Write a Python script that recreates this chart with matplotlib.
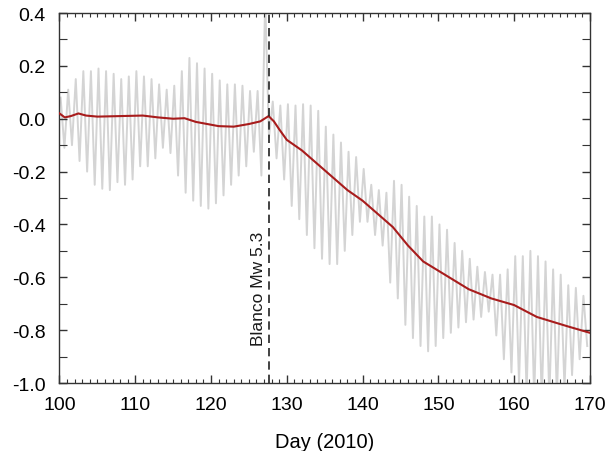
import matplotlib
matplotlib.use("Agg")
import matplotlib.pyplot as plt
from matplotlib.ticker import MultipleLocator
import numpy as np

plt.rcParams['font.family'] = ['Liberation Sans', 'DejaVu Sans']

# ---- data ----
days = list(range(100, 170))
gray_high = [0.08, 0.11, 0.15, 0.18, 0.18, 0.19, 0.18, 0.17, 0.15, 0.16,
             0.18, 0.16, 0.15, 0.13, 0.11, 0.125, 0.18, 0.23, 0.21, 0.19,
             0.17, 0.145, 0.13, 0.13, 0.125, 0.105, 0.105, 0.45, 0.065, 0.05,
             0.055, 0.05, 0.055, 0.05, 0.03, -0.03, -0.06, -0.09, -0.125, -0.145,
             -0.19, -0.25, -0.27, -0.28, -0.235, -0.25, -0.295, -0.33, -0.37, -0.37,
             -0.40, -0.42, -0.47, -0.50, -0.53, -0.56, -0.58, -0.59, -0.59, -0.57,
             -0.52, -0.52, -0.50, -0.52, -0.54, -0.57, -0.59, -0.63, -0.64, -0.67]
gray_low = [-0.11, -0.10, -0.16, -0.20, -0.25, -0.265, -0.27, -0.24, -0.25, -0.23,
            -0.18, -0.18, -0.15, -0.11, -0.13, -0.215, -0.28, -0.31, -0.33, -0.34,
            -0.32, -0.29, -0.25, -0.215, -0.18, -0.125, -0.215, -0.07, -0.15, -0.23,
            -0.33, -0.38, -0.44, -0.49, -0.53, -0.55, -0.55, -0.50, -0.44, -0.39,
            -0.39, -0.44, -0.48, -0.62, -0.68, -0.78, -0.83, -0.86, -0.88, -0.86,
            -0.83, -0.81, -0.79, -0.77, -0.76, -0.75, -0.73, -0.82, -0.91, -0.96,
            -1.00, -1.04, -1.06, -1.07, -1.06, -1.05, -1.02, -0.97, -0.91, -0.86]

red_days = [100, 100.7, 101.5, 102.5, 103.5, 105, 108, 111, 113, 115, 116.5,
            118, 119.5, 121, 123, 125, 126.5, 127.6, 128.3, 129, 130, 132, 134,
            136, 138, 140, 142, 144, 146, 148, 150, 152, 154, 157, 160, 163, 167, 170]
red_vals = [0.02, 0.005, 0.01, 0.02, 0.012, 0.008, 0.01, 0.012, 0.005, 0.0, 0.002,
            -0.012, -0.02, -0.028, -0.03, -0.02, -0.01, 0.01, -0.01, -0.04, -0.08,
            -0.12, -0.17, -0.22, -0.27, -0.31, -0.36, -0.41, -0.48, -0.54, -0.575,
            -0.61, -0.645, -0.68, -0.705, -0.75, -0.785, -0.81]

quake_day = 127.6
quake_label = "Blanco Mw 5.3"

# ---- figure ----
fig = plt.figure(figsize=(6.10, 4.52), dpi=100)
ax = fig.add_axes([0.0975, 0.1504, 0.8695, 0.8186])

gx, gy = [], []
for d, hi, lo in zip(days, gray_high, gray_low):
    gx += [d + 0.15, d + 0.65]
    gy += [hi, lo]
ax.plot(gx, gy, color='#d4d4d4', lw=1.4, zorder=1)
ax.plot(red_days, red_vals, color='#a81c1c', lw=1.5, zorder=3)

ax.axvline(quake_day, color='#222222', lw=1.2, ls=(0, (5, 3)), zorder=4)
ax.text(quake_day - 0.35, -0.64, quake_label, rotation=90, ha='right', va='center',
        fontsize=12.5, color='#1a1a1a')

ax.set_xlim(100, 170)
ax.set_ylim(-1.0, 0.4)
ax.xaxis.set_major_locator(MultipleLocator(10))
ax.xaxis.set_minor_locator(MultipleLocator(1))
ax.yaxis.set_major_locator(MultipleLocator(0.2))
ax.yaxis.set_minor_locator(MultipleLocator(0.1))
ax.yaxis.set_major_formatter(plt.FuncFormatter(lambda v, p: f"{v:.1f}".replace("-0.0", "0.0")))
ax.tick_params(which='both', direction='in', top=True, right=True, color='#333333')
ax.tick_params(which='major', length=6, width=1, labelsize=14)
ax.tick_params(axis='x', which='major', pad=9)
ax.tick_params(axis='y', which='major', pad=10)
ax.tick_params(which='minor', length=3, width=0.8)
ax.tick_params(axis='y', which='minor', right=True, length=6)
for s in ax.spines.values():
    s.set_color('#333333')
    s.set_linewidth(1.0)

ax.set_xlabel("Day (2010)", fontsize=14.5, labelpad=14)

fig.savefig("out.png", dpi=100)
